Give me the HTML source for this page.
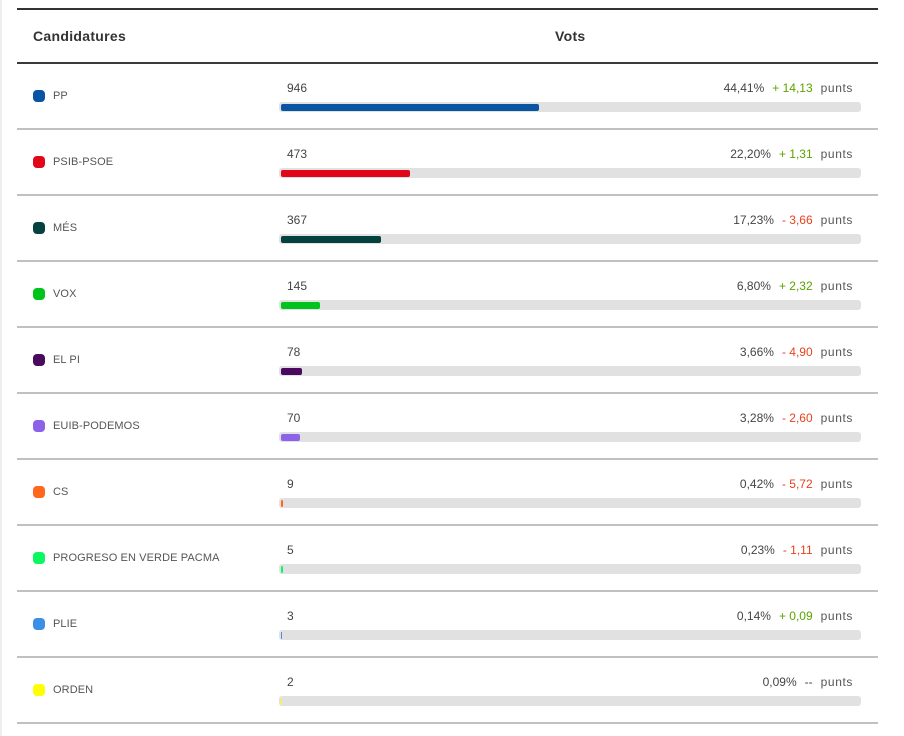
<!DOCTYPE html>
<html>
<head>
<meta charset="utf-8">
<style>
html,body{margin:0;padding:0;background:#fff;}
body{width:904px;height:736px;position:relative;overflow:hidden;font-family:"Liberation Sans",sans-serif;}
.lstrip{position:absolute;left:0;top:0;width:2px;height:736px;background:#eeeeee;}
.hline{position:absolute;left:17px;width:861px;}
.hdr{position:absolute;font-weight:bold;font-size:14px;color:#333;line-height:16px;letter-spacing:0.3px;}
.row{position:absolute;left:17px;width:861px;height:66px;}
.sq{position:absolute;left:16px;top:26px;width:12px;height:12px;border-radius:4px;}
.name{position:absolute;left:36px;top:25px;font-size:11px;line-height:14px;color:#555;letter-spacing:0.1px;}
.num{position:absolute;left:270px;top:17px;font-size:12px;line-height:14px;color:#444;}
.right{position:absolute;right:25px;top:17px;font-size:12px;line-height:14px;color:#444;white-space:nowrap;}
.right span{margin-left:8px;}
.pos{color:#5ba300;}
.neg{color:#e6421e;}
.pts{color:#555;letter-spacing:0.6px;}
.bar{position:absolute;left:262px;top:38px;width:582px;height:10px;border-radius:3px;background:#e1e1e1;}
.fill{position:absolute;left:2px;top:1.5px;height:7px;border-radius:2px;}
.border{position:absolute;left:0;bottom:0;width:861px;height:2px;background:#c0c0c0;}
</style>
</head>
<body>
<div class="lstrip"></div>
<div class="hline" style="top:8px;height:2px;background:#333;"></div>
<div class="hdr" style="left:33px;top:28px;">Candidatures</div>
<div class="hdr" style="left:555px;top:28px;">Vots</div>
<div class="hline" style="top:62px;height:2px;background:#3a3a3a;"></div>

<div class="row" style="top:64px;">
  <div class="sq" style="background:#0a55a3;"></div><div class="name">PP</div>
  <div class="num">946</div>
  <div class="right">44,41%<span class="pos">+ 14,13</span><span class="pts">punts</span></div>
  <div class="bar"><div class="fill" style="width:257.6px;background:#0a55a3;"></div></div>
  <div class="border"></div>
</div>
<div class="row" style="top:130px;">
  <div class="sq" style="background:#e2061b;"></div><div class="name">PSIB-PSOE</div>
  <div class="num">473</div>
  <div class="right">22,20%<span class="pos">+ 1,31</span><span class="pts">punts</span></div>
  <div class="bar"><div class="fill" style="width:128.8px;background:#e2061b;"></div></div>
  <div class="border"></div>
</div>
<div class="row" style="top:196px;">
  <div class="sq" style="background:#03423e;"></div><div class="name">MÉS</div>
  <div class="num">367</div>
  <div class="right">17,23%<span class="neg">- 3,66</span><span class="pts">punts</span></div>
  <div class="bar"><div class="fill" style="width:99.9px;background:#03423e;"></div></div>
  <div class="border"></div>
</div>
<div class="row" style="top:262px;">
  <div class="sq" style="background:#00c31c;"></div><div class="name">VOX</div>
  <div class="num">145</div>
  <div class="right">6,80%<span class="pos">+ 2,32</span><span class="pts">punts</span></div>
  <div class="bar"><div class="fill" style="width:39.4px;background:#00c31c;"></div></div>
  <div class="border"></div>
</div>
<div class="row" style="top:328px;">
  <div class="sq" style="background:#4a0a5e;"></div><div class="name">EL PI</div>
  <div class="num">78</div>
  <div class="right">3,66%<span class="neg">- 4,90</span><span class="pts">punts</span></div>
  <div class="bar"><div class="fill" style="width:21.2px;background:#4a0a5e;"></div></div>
  <div class="border"></div>
</div>
<div class="row" style="top:394px;">
  <div class="sq" style="background:#8c62e8;"></div><div class="name">EUIB-PODEMOS</div>
  <div class="num">70</div>
  <div class="right">3,28%<span class="neg">- 2,60</span><span class="pts">punts</span></div>
  <div class="bar"><div class="fill" style="width:19px;background:#8c62e8;"></div></div>
  <div class="border"></div>
</div>
<div class="row" style="top:460px;">
  <div class="sq" style="background:#ff671f;"></div><div class="name">CS</div>
  <div class="num">9</div>
  <div class="right">0,42%<span class="neg">- 5,72</span><span class="pts">punts</span></div>
  <div class="bar"><div class="fill" style="width:2.4px;background:#ff671f;"></div></div>
  <div class="border"></div>
</div>
<div class="row" style="top:526px;">
  <div class="sq" style="background:#0af760;"></div><div class="name">PROGRESO EN VERDE PACMA</div>
  <div class="num">5</div>
  <div class="right">0,23%<span class="neg">- 1,11</span><span class="pts">punts</span></div>
  <div class="bar"><div class="fill" style="width:1.5px;background:#0af760;"></div></div>
  <div class="border"></div>
</div>
<div class="row" style="top:592px;">
  <div class="sq" style="background:#3d8fe6;"></div><div class="name">PLIE</div>
  <div class="num">3</div>
  <div class="right">0,14%<span class="pos">+ 0,09</span><span class="pts">punts</span></div>
  <div class="bar"><div class="fill" style="width:1px;background:#3d8fe6;"></div></div>
  <div class="border"></div>
</div>
<div class="row" style="top:658px;">
  <div class="sq" style="background:#ffff00;"></div><div class="name">ORDEN</div>
  <div class="num">2</div>
  <div class="right">0,09%<span style="color:#444;">--</span><span class="pts">punts</span></div>
  <div class="bar"><div class="fill" style="width:1px;background:#ffff00;"></div></div>
  <div class="border"></div>
</div>
</body>
</html>
